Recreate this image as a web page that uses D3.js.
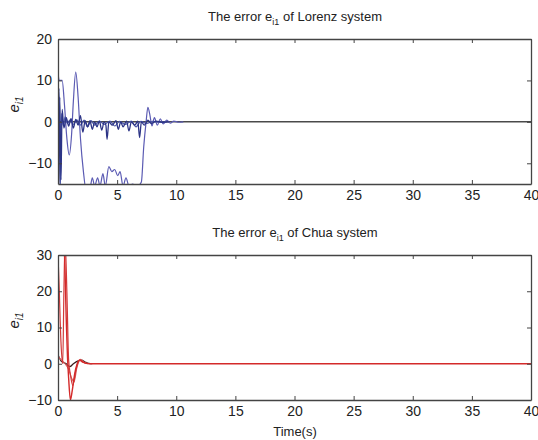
<!DOCTYPE html>
<html>
<head>
<meta charset="utf-8">
<script src="https://cdn.jsdelivr.net/npm/d3@7"></script>
<style>
  body { margin: 0; background: #fff; }
  svg { display: block; font-family: "Liberation Sans", Arial, sans-serif; }
</style>
</head>
<body>
<svg id="chart" width="538" height="440"></svg>
<script>
// time ticks shared by both panels
const timeTicks = [0, 5, 10, 15, 20, 25, 30, 35, 40];
const lorenzTicks = [-10, 0, 10, 20];
const chuaTicks = [-10, 0, 10, 20, 30];

// Lorenz error curves: [t, e]
const lorenzA = [[0,12],[0.1,10],[0.35,10],[0.55,4],[0.75,-4],[0.95,-8],[1.15,-3],[1.3,5],[1.5,12],[1.7,6],[1.9,-4],[2.15,-12],[2.35,-16],
  [2.7,-16],[2.9,-13.5],[3.1,-15.5],[3.35,-13.5],[3.55,-15.5],[3.8,-12.5],[4.0,-15.5],[4.3,-10.8],[4.55,-12],[4.8,-11.5],[5.05,-13],
  [5.25,-12],[5.5,-15.5],[5.75,-13.5],[6.0,-15.5],[6.3,-15],[6.7,-15.5],[7.05,-14.5],[7.25,-6],[7.45,0],[7.6,3.5],[7.75,2],
  [7.95,-1],[8.15,1],[8.4,-0.8],[8.65,0.7],[8.9,-0.5],[9.2,0.4],[9.5,-0.3],[9.8,0.2],[10.2,-0.1],[10.6,0]];
const lorenzB = [[0,10],[0.08,-16],[0.15,6],[0.25,-14],[0.35,3],[0.5,-1.5],[0.7,1],[0.9,-1],[1.1,0.8],[1.3,-1.5],[1.5,0.6],[1.7,-0.8],
  [1.9,1.5],[2.1,-2.5],[2.3,0.3],[2.5,-1.2],[2.7,0.3],[2.9,-1.8],[3.1,0],[3.3,-1.2],[3.5,0.2],[3.7,-2],[3.9,0],[4.05,-0.8],[4.15,-4.2],
  [4.3,0],[4.6,-0.8],[4.9,0.3],[5.1,-1.8],[5.3,0],[5.5,-1.2],[5.8,0.2],[6.0,-2.2],[6.2,0],[6.5,-0.8],[6.75,0.2],[6.9,-3.8],[7.05,0],
  [7.3,-0.8],[7.6,0.4],[7.9,-0.4],[8.3,0.2],[8.8,-0.1],[9.4,0]];
const lorenzC = [[0,-2],[0.1,8],[0.2,-16],[0.3,2],[0.45,-1],[0.6,1.2],[0.8,-0.4],[1.0,0.4],[1.3,-0.6],[1.6,0.5],[1.9,-0.8],[2.2,0.4],
  [2.5,-1.2],[2.8,0.3],[3.1,-0.8],[3.5,0.2],[3.9,-0.6],[4.4,0.2],[4.8,-1],[5.2,0.1],[5.7,-0.6],[6.2,0.2],[6.6,-1.2],[7.0,0.1],
  [7.5,-0.4],[8.0,0.1],[8.6,-0.1],[9.2,0]];
const lorenzZero = [[0,0],[40,0]];

// Chua error curves: [t, e]
const chuaA = [[0,31],[0.2,36],[0.4,34],[0.55,30],[0.7,12],[0.8,2],[0.9,-4],[1.05,-10],[1.2,-7.5],[1.4,-3],[1.6,-0.2],[1.85,1],
  [2.1,0.5],[2.4,0.1],[2.7,0],[40,0]];
const chuaB = [[0,30],[0.1,21],[0.25,6],[0.4,0],[0.5,20],[0.6,34],[0.75,20],[0.9,1],[1.05,-3],[1.25,-6],[1.5,-2],[1.8,1],
  [2.1,0.4],[2.5,0]];
const chuaC = [[0,2],[0.3,1],[0.6,0],[0.9,-1.5],[1.15,-4],[1.35,-5],[1.6,-1],[1.9,1.2],[2.2,0.4],[2.6,0]];
const chuaD = [[0,2.5],[0.3,0.6],[0.7,0],[1.0,-0.8],[1.3,0],[1.7,0.8],[2.0,1],[2.3,0.5],[2.6,0.1],[2.9,0]];

const svg = d3.select('#chart');
const left = 58, right = 531;

function panel(cfg) {
  const x = d3.scaleLinear().domain([0, 40]).range([left, right]);
  const y = d3.scaleLinear().domain(cfg.yDomain).range([cfg.bottom, cfg.top]);
  const g = svg.append('g');

  g.append('clipPath').attr('id', cfg.id)
    .append('rect').attr('x', left).attr('y', cfg.top)
    .attr('width', right - left).attr('height', cfg.bottom - cfg.top);

  const line = d3.line().curve(d3.curveMonotoneX).x(d => x(d[0])).y(d => y(d[1]));
  const plot = g.append('g').attr('clip-path', `url(#${cfg.id})`);
  cfg.series.forEach(s => {
    plot.append('path').datum(s.data)
      .attr('d', line).attr('fill', 'none')
      .attr('stroke', s.color).attr('stroke-width', s.width || 1.2);
  });

  // axes: labels on bottom/left, inward ticks on all sides
  const ax = (axis, tr) => g.append('g').attr('transform', tr).call(axis)
    .call(a => a.select('.domain').attr('stroke', '#444').attr('stroke-width', 1.3))
    .call(a => a.selectAll('.tick line').attr('stroke', '#444'));

  ax(d3.axisBottom(x).tickValues(timeTicks).tickSize(-4).tickPadding(6).tickSizeOuter(0), `translate(0,${cfg.bottom})`)
    .selectAll('text').attr('font-size', 14).attr('fill', '#222');
  ax(d3.axisTop(x).tickValues(timeTicks).tickSize(-4).tickFormat('').tickSizeOuter(0), `translate(0,${cfg.top})`);
  ax(d3.axisLeft(y).tickValues(cfg.yTicks).tickSize(-4).tickPadding(6).tickSizeOuter(0), `translate(${left},0)`)
    .selectAll('text').attr('font-size', 14).attr('fill', '#222');
  ax(d3.axisRight(y).tickValues(cfg.yTicks).tickSize(-4).tickFormat('').tickSizeOuter(0), `translate(${right},0)`);

  const title = g.append('text').attr('x', 295).attr('y', cfg.top - 18)
    .attr('text-anchor', 'middle').attr('font-size', 13).attr('fill', '#222');
  title.append('tspan').text('The error e');
  title.append('tspan').attr('font-size', 9).attr('dy', 4).text('i1');
  title.append('tspan').attr('dy', -4).text('  of ' + cfg.name + ' system');

  const yl = g.append('text')
    .attr('transform', `translate(19,${(cfg.top + cfg.bottom) / 2 - 7}) rotate(-90)`)
    .attr('text-anchor', 'middle').attr('font-size', 15).attr('font-style', 'italic').attr('fill', '#222');
  yl.append('tspan').text('e');
  yl.append('tspan').attr('font-size', 10).attr('dy', 4).text('i1');
}

panel({
  id: 'clipL', name: 'Lorenz', top: 39, bottom: 184, yDomain: [-15, 20], yTicks: lorenzTicks,
  series: [
    { data: lorenzZero, color: '#4a4a4a', width: 1.5 },
    { data: lorenzA, color: '#5b5bb3' },
    { data: lorenzC, color: '#4a56a8' },
    { data: lorenzB, color: '#2c3486', width: 1.3 }
  ]
});

panel({
  id: 'clipC', name: 'Chua', top: 255, bottom: 400, yDomain: [-10, 30], yTicks: chuaTicks,
  series: [
    { data: chuaD, color: '#3a1a1a' },
    { data: chuaC, color: '#d46060' },
    { data: chuaB, color: '#d23a3a' },
    { data: chuaA, color: '#d42a2a', width: 1.4 }
  ]
});

svg.append('text').attr('x', 295).attr('y', 436).attr('text-anchor', 'middle')
  .attr('font-size', 13).attr('fill', '#222').text('Time(s)');
</script>
</body>
</html>
